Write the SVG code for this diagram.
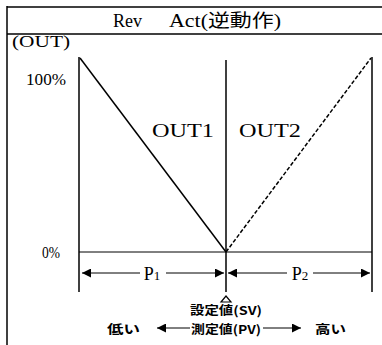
<svg xmlns="http://www.w3.org/2000/svg" width="382" height="345" viewBox="0 0 382 345">
<style>
.ln{stroke:#000;stroke-width:1.5;fill:none}
.tn{stroke:#000;stroke-width:1;fill:none}
.s{font-family:"Liberation Serif","Noto Sans CJK JP",serif;fill:#000}
.j{font-family:"Noto Sans CJK JP",sans-serif;fill:#000;font-weight:bold}
</style>
<defs>
<marker id="ah" viewBox="0 0 10 10" refX="10" refY="5" markerWidth="9" markerHeight="9" markerUnits="userSpaceOnUse" orient="auto-start-reverse"><path d="M0,0 L10,5 L0,10 z" fill="#000"/></marker>
</defs>
<rect width="382" height="345" fill="#fff"/>
<g id="frame">
<line class="ln" x1="7" y1="6" x2="7" y2="345"/>
<line class="ln" x1="7" y1="7" x2="382" y2="7"/>
<line class="ln" x1="7" y1="34" x2="382" y2="34"/>
<text class="s" x="113" y="27" font-size="18">Rev</text>
<text class="s" x="169" y="27" font-size="18" textLength="112" lengthAdjust="spacingAndGlyphs">Act(逆動作)</text>
</g>
<g id="axes">
<line class="ln" x1="79" y1="57" x2="79" y2="292"/>
<line class="ln" x1="372" y1="57" x2="372" y2="292"/>
<line class="ln" x1="226" y1="60" x2="226" y2="292"/>
<line class="tn" x1="79" y1="252" x2="372" y2="252"/>
<text class="s" x="41" y="47" font-size="16" text-anchor="middle" textLength="58" lengthAdjust="spacingAndGlyphs">(OUT)</text>
<text class="s" x="66" y="85" font-size="16" text-anchor="end" textLength="40" lengthAdjust="spacingAndGlyphs">100%</text>
<text class="s" x="60" y="258" font-size="16" text-anchor="end" textLength="18" lengthAdjust="spacingAndGlyphs">0%</text>
</g>
<g id="connectors">
<line class="ln" x1="80" y1="58" x2="226" y2="252" stroke-width="2"/>
<line class="ln" x1="226" y1="252" x2="371" y2="58" stroke-width="2" stroke-dasharray="4,2"/>
<line class="tn" x1="82" y1="273" x2="224" y2="273" marker-start="url(#ah)" marker-end="url(#ah)"/>
<line class="tn" x1="228" y1="273" x2="370" y2="273" marker-start="url(#ah)" marker-end="url(#ah)"/>
<line class="tn" x1="157" y1="328" x2="190" y2="328" marker-start="url(#ah)"/>
<line class="tn" x1="263" y1="328" x2="301" y2="328" marker-end="url(#ah)"/>
<path d="M221,302 L226,296 L231,302 Z" fill="#fff" stroke="#000" stroke-width="1.2"/>
</g>
<g id="out1"><text class="s" x="183" y="137" font-size="18" text-anchor="middle" textLength="62" lengthAdjust="spacingAndGlyphs">OUT1</text></g>
<g id="out2"><text class="s" x="270" y="137" font-size="18" text-anchor="middle" textLength="62" lengthAdjust="spacingAndGlyphs">OUT2</text></g>
<g id="p1"><rect x="140" y="264" width="26" height="18" fill="#fff"/><text class="s" x="152" y="280" font-size="18" text-anchor="middle">P<tspan font-size="13">1</tspan></text></g>
<g id="p2"><rect x="287" y="264" width="26" height="18" fill="#fff"/><text class="s" x="300" y="280" font-size="18" text-anchor="middle">P<tspan font-size="13">2</tspan></text></g>
<g id="sv"><text class="j" x="226" y="315" font-size="12" text-anchor="middle" textLength="72" lengthAdjust="spacingAndGlyphs">設定値(SV)</text></g>
<g id="pv">
<text class="j" x="107" y="334" font-size="12" textLength="33" lengthAdjust="spacingAndGlyphs">低い</text>
<text class="j" x="226" y="334" font-size="12" text-anchor="middle" textLength="70" lengthAdjust="spacingAndGlyphs">測定値(PV)</text>
<text class="j" x="315" y="334" font-size="12" textLength="31" lengthAdjust="spacingAndGlyphs">高い</text>
</g>
</svg>
